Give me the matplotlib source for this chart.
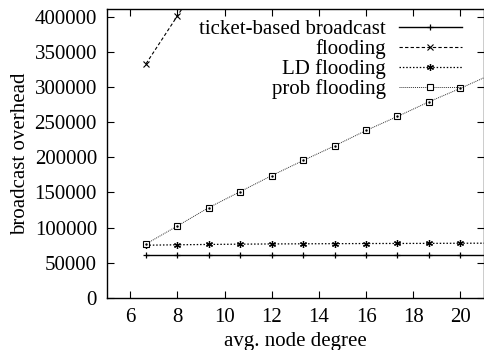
import matplotlib
matplotlib.use("Agg")
from matplotlib import pyplot as plt

# avg. node degree (last point lies past the right edge, clipped like gnuplot)
degree = [6.67, 8.0, 9.33, 10.67, 12.0, 13.33, 14.67, 16.0, 17.33, 18.67, 20.0, 21.33]

ticket = [61200, 61200, 61200, 61200, 61200, 61200, 61200, 61200, 61200, 61200, 61200, 61200]
flooding = [333000, 401000, 470000, 540000, 610000, 680000, 750000, 820000, 890000, 960000, 1030000, 1100000]
ld_flooding = [75000, 75600, 76100, 76500, 76800, 77000, 77200, 77400, 77500, 77600, 77800, 77900]
prob_flooding = [76800, 102400, 128500, 151300, 174000, 195400, 216300, 238100, 258000, 278900, 298000, 318000]

xticks = [6, 8, 10, 12, 14, 16, 18, 20]
yticks = [0, 50000, 100000, 150000, 200000, 250000, 300000, 350000, 400000]

plt.rcParams['font.family'] = ['Liberation Serif', 'DejaVu Serif']
plt.rcParams['font.size'] = 15

fig = plt.figure(figsize=(4.85, 3.5), dpi=100)
ax = fig.add_axes([0.22, 0.1486, 0.778, 0.8243])

ax.plot(degree, ticket, color='black', lw=1.0, marker='+', ms=5, mew=0.9,
        label='ticket-based broadcast')
ax.plot(degree, flooding, color='black', lw=0.8, ls=(0, (3, 2)), marker='x', ms=4, mew=0.8,
        label='flooding')
ax.plot(degree, ld_flooding, color='black', lw=0.9, ls=(0, (1.2, 1.5)), marker=(6, 2, 0), ms=5, mew=0.9,
        label='LD flooding')
ax.plot(degree, prob_flooding, color='#333333', lw=0.7, ls=(0, (1, 1)), marker='s', ms=5, mew=0.8,
        mfc='white', mec='black', label='prob flooding')
# centre dot of the gnuplot square point
ax.plot(degree, prob_flooding, ls='none', marker='.', ms=1.5, color='black')

ax.set_xlim(5, 21)
ax.set_ylim(0, 410000)
ax.set_xticks(xticks)
ax.set_yticks(yticks)
ax.set_yticklabels([str(v) for v in yticks])
ax.tick_params(direction='in', length=5, width=0.8, top=True, right=True, pad=7)
for s in ax.spines.values():
    s.set_linewidth(1.0)

ax.set_xlabel('avg. node degree', labelpad=4)
ax.set_ylabel('broadcast overhead', labelpad=3)

ax.legend(loc='upper right', bbox_to_anchor=(0.96, 0.99), frameon=False, markerfirst=False,
          numpoints=1, handlelength=3.0, handletextpad=0.65, labelspacing=0.0,
          borderaxespad=0.1, borderpad=0.25)

plt.savefig('out.png', dpi=100)
